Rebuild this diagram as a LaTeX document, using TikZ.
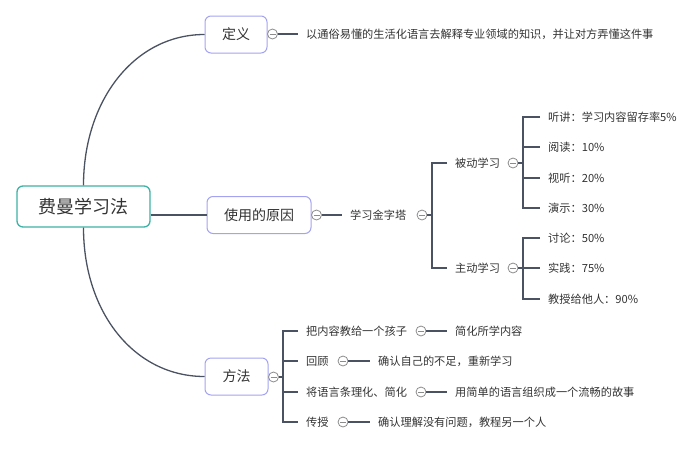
\documentclass[tikz,border=0pt]{standalone}
\usepackage{fontspec}
\setmainfont{Noto Sans CJK SC}
\definecolor{linkgray}{HTML}{4B5262}
\definecolor{txtgray}{HTML}{333333}
\definecolor{rootteal}{HTML}{3DB2A6}
\definecolor{boxblue}{HTML}{A3A3F2}
\definecolor{foldgray}{HTML}{8C8C8C}
\tikzset{
  link/.style={color=linkgray, line width=1.3pt},
  rootbox/.style={draw=rootteal, line width=1.3pt, rounded corners=6pt, fill=white, text=txtgray,
    font=\fontsize{18}{20}\selectfont, minimum width=133pt, minimum height=41pt},
  topicbox/.style={draw=boxblue, line width=1pt, rounded corners=6pt, fill=white, text=txtgray,
    font=\fontsize{14}{16}\selectfont, minimum height=37pt},
  leaf/.style={anchor=west, inner xsep=8pt, inner ysep=2pt, text=txtgray, font=\fontsize{11.2}{13}\selectfont},
  fold/.style={circle, draw=foldgray, fill=white, line width=0.8pt, minimum size=10pt, inner sep=0pt,
    path picture={\draw[foldgray, line width=0.8pt] ([xshift=-3pt]path picture bounding box.center) -- ([xshift=3pt]path picture bounding box.center);}}
}
\begin{document}
\begin{tikzpicture}[x=1pt, y=-1pt]
  \useasboundingbox (0,0) rectangle (700,450);

  % main topics
  \node[rootbox] (root) at (83.5,206.5) {费曼学习法};
  \node[topicbox, minimum width=62pt] (def) at (236,34.5) {定义};
  \node[topicbox, minimum width=104pt] (why) at (259,215) {使用的原因};
  \node[topicbox, minimum width=63pt] (how) at (236.5,376.5) {方法};

  \draw[link] (root.north) .. controls +(0,-85) and +(-70,0) .. (def.west);
  \draw[link] (root.south) .. controls +(0,85) and +(-70,0) .. (how.west);
  \draw[link] (root.east |- why) -- (why.west);

  % definition
  \node[fold] (fdef) at (272.5,34) {};
  \node[leaf] (tdef) at (298,34) {以通俗易懂的生活化语言去解释专业领域的知识，并让对方弄懂这件事};
  \draw[link] (fdef) -- (tdef);

  % reasons
  \node[fold] (fwhy) at (316.5,215) {};
  \node[leaf] (tpyr) at (342,215) {学习金字塔};
  \node[fold] (fpyr) at (422,215) {};
  \node[leaf] (tpas) at (447,163) {被动学习};
  \node[leaf] (tact) at (447,268) {主动学习};
  \node[fold] (fpas) at (513,163) {};
  \node[fold] (fact) at (513,268) {};
  \draw[link] (fwhy) -- (tpyr);

  \coordinate (bpyr) at (432,215);
  \draw[link] (fpyr) -- (bpyr);
  \draw[link] (tpas.west) -| (bpyr) |- (tact.west);

  \node[leaf] (p1) at (540,117) {听讲：学习内容留存率5\%};
  \node[leaf] (p2) at (540,147) {阅读：10\%};
  \node[leaf] (p3) at (540,178) {视听：20\%};
  \node[leaf] (p4) at (540,208) {演示：30\%};
  \coordinate (bpas) at (523,163);
  \draw[link] (fpas) -- (bpas);
  \draw[link] (p1.west) -| (bpas) |- (p4.west);
  \foreach \t in {p2,p3}
    \draw[link] (bpas |- \t.west) -- (\t.west);

  \node[leaf] (a1) at (540,238) {讨论：50\%};
  \node[leaf] (a2) at (540,268) {实践：75\%};
  \node[leaf] (a3) at (540,299) {教授给他人：90\%};
  \coordinate (bact) at (523,268);
  \draw[link] (fact) -- (a2);
  \draw[link] (a1.west) -| (bact) |- (a3.west);

  % methods
  \node[fold] (fhow) at (273.5,377) {};
  \node[leaf] (m1) at (298,331) {把内容教给一个孩子};
  \node[leaf] (m2) at (298,361) {回顾};
  \node[leaf] (m3) at (298,392) {将语言条理化、简化};
  \node[leaf] (m4) at (298,422) {传授};
  \coordinate (bhow) at (283,377);
  \draw[link] (fhow) -- (bhow);
  \draw[link] (m1.west) -| (bhow) |- (m4.west);
  \foreach \t in {m2,m3}
    \draw[link] (bhow |- \t.west) -- (\t.west);

  \node[fold] (f1) at (421,331) {};
  \node[fold] (f2) at (343,361) {};
  \node[fold] (f3) at (421,392) {};
  \node[fold] (f4) at (343,422) {};
  \node[leaf] (r1) at (447,331) {简化所学内容};
  \node[leaf] (r2) at (370,361) {确认自己的不足，重新学习};
  \node[leaf] (r3) at (447,392) {用简单的语言组织成一个流畅的故事};
  \node[leaf] (r4) at (370,422) {确认理解没有问题，教程另一个人};
  \foreach \i in {1,...,4}
    \draw[link] (f\i) -- (r\i);
\end{tikzpicture}
\end{document}
